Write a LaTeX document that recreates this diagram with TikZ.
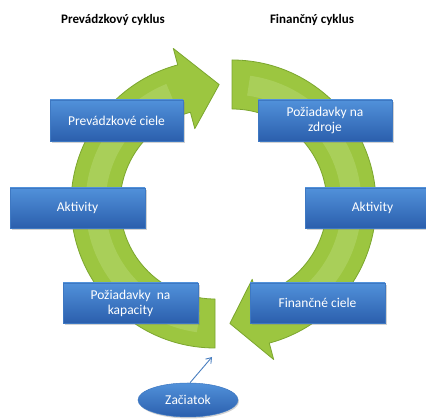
\documentclass[tikz,border=0pt]{standalone}
\usepackage{fontspec}
\setmainfont{Carlito}
\usetikzlibrary{calc,shadows,arrows.meta,shapes.geometric}
\definecolor{ringfill}{HTML}{9CC640}
\definecolor{ringedge}{HTML}{7BA62E}
\definecolor{ringlight}{HTML}{C4E08A}
\definecolor{boxtop}{HTML}{5191DA}
\definecolor{boxbot}{HTML}{2B5FAD}
\definecolor{boxedge}{HTML}{3E78C2}
\definecolor{arrowblue}{HTML}{4A7FC0}
\tikzset{
  ring/.style={fill=ringfill, draw=ringedge, line width=0.8pt, line join=round},
  ringshine/.style={draw=ringlight, line width=20pt, opacity=0.35},
  bluebox/.style={rectangle, draw=boxedge, line width=0.5pt, top color=boxtop, bottom color=boxbot,
    text=white, font=\fontsize{13.5}{15}\selectfont, align=center, inner sep=0pt,
    drop shadow={shadow xshift=1.5pt, shadow yshift=-2pt, opacity=0.35}},
  blueell/.style={ellipse, draw=boxedge, line width=0.5pt, top color=boxtop, bottom color=boxbot,
    text=white, font=\fontsize{13.5}{15}\selectfont, inner sep=0pt,
    drop shadow={shadow xshift=1pt, shadow yshift=-1.5pt, opacity=0.35}},
  cycletitle/.style={font=\bfseries\fontsize{13}{15}\selectfont, text=black},
  startarrow/.style={draw=arrowblue, line width=0.9pt, -{Straight Barb[length=5pt,width=7pt]}}
}
\begin{document}
\begin{tikzpicture}[x=1pt,y=1pt]
\useasboundingbox (0,0) rectangle (426,419);
\clip (0,0) rectangle (426,419);
\fill[white] (0,0) rectangle (426,419);
\coordinate (C1) at (215,215);
\coordinate (C2) at (232,215);
% left arrow (operating cycle)
\path[ring] ($(C1)+(270:144)$) arc[start angle=270,end angle=105,radius=144pt]
  -- ($(C1)+(105:161)$) -- ($(C1)+(88:119.5)$) -- ($(C1)+(105:78)$)
  -- ($(C1)+(105:95)$) arc[start angle=105,end angle=270,radius=95pt] -- cycle;
\draw[ringshine] ($(C1)+(262:119.5)$) arc[start angle=262,end angle=112,radius=119.5pt];
% right arrow (financial cycle)
\path[ring] ($(C2)+(90:144)$) arc[start angle=90,end angle=-75,radius=144pt]
  -- ($(C2)+(-75:161)$) -- ($(C2)+(-91:119.5)$) -- ($(C2)+(-75:78)$)
  -- ($(C2)+(-75:95)$) arc[start angle=-75,end angle=90,radius=95pt] -- cycle;
\draw[ringshine] ($(C2)+(82:119.5)$) arc[start angle=82,end angle=-68,radius=119.5pt];
% titles
\node[cycletitle] (t1) at (113,399) {Prevádzkový cyklus};
\node[cycletitle] (t2) at (312,399) {Finančný cyklus};
% boxes
\node[bluebox, minimum width=133pt, minimum height=41pt] (pc) at (116.5,298.5) {Prevádzkové ciele};
\node[bluebox, minimum width=134pt, minimum height=41pt] (pz) at (325,298.5) {Požiadavky na\\zdroje};
\node[bluebox, minimum width=135pt, minimum height=40pt] (a1) at (77.5,211) {Aktivity};
\node[bluebox, minimum width=135pt, minimum height=40pt] (a2) at (372.5,211) {Aktivity};
\node[bluebox, minimum width=135pt, minimum height=40pt] (pk) at (130.5,116) {Požiadavky\ \ na\\kapacity};
\node[bluebox, minimum width=135pt, minimum height=40pt] (fc) at (317.5,116) {Finančné ciele};
% start
\node[blueell, minimum width=100pt, minimum height=34pt] (z) at (188,19) {Začiatok};
\coordinate (zt) at (212,62);
\draw[startarrow] ([xshift=2pt]z.north) -- (zt);
\end{tikzpicture}
\end{document}
